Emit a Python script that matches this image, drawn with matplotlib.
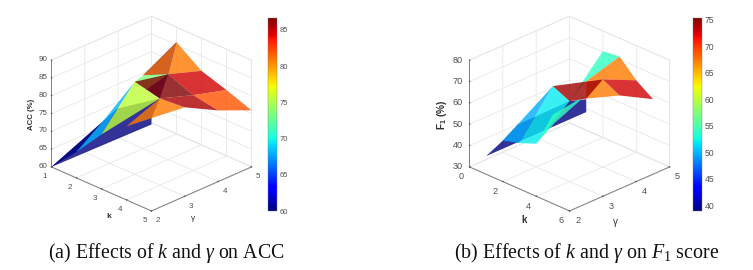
import numpy as np
import matplotlib
matplotlib.use('Agg')
import matplotlib.pyplot as plt
from matplotlib import cm
from matplotlib.colors import Normalize
from matplotlib.transforms import offset_copy
from mpl_toolkits.mplot3d.art3d import Poly3DCollection

plt.rcParams['font.family'] = 'Liberation Sans'
plt.rcParams['mathtext.fontset'] = 'custom'
plt.rcParams['mathtext.rm'] = 'Liberation Serif'
plt.rcParams['mathtext.it'] = 'Liberation Serif:italic'
plt.rcParams['mathtext.bf'] = 'Liberation Sans:bold'

# values
acc_k = [1, 2, 3, 4, 5, 5, 2, 3, 4, 5, 2, 3, 4, 5, 2, 3, 4, 5, 2.3, 3.47]
acc_gamma = [2, 2, 2, 2, 2, 2, 2.75, 3, 3, 3, 4, 4, 4, 4, 5, 5, 5, 5, 3, 3]
acc_z = [60, 67.3, 75.3, 80.7, 84.3, 86, 72.3, 86, 84.4, 85, 80.6, 84, 81.2, 80,
         85.8, 80.8, 78.5, 75.9, 76.3, 85.3]
acc_faces = [(14, 15, 11), (10, 14, 11), (10, 14, 11), (11, 15, 16, 12), (12, 16, 17, 13),
             (7, 10, 11, 19), (19, 11, 8), (0, 4, 5, 8, 18), (0, 1, 6), (1, 2, 7, 6),
             (2, 7, 8), (3, 8, 9), (8, 12, 13, 9), (7, 11, 12, 8)]
acc_colors = [80.8, 60, 81.1, 84.8, 82, 73.4, 60, 60, 60, 68, 75.5, 80.8, 85.6, 86.7]

f1_k = [1, 2, 3, 4, 5, 5, 3, 4, 5, 3, 4, 5, 2, 3, 4, 5, 5, 2, 3, 4]
f1_gamma = [2, 2, 2, 2, 3, 3, 3, 3, 3, 4, 4, 4, 5, 5, 5, 5, 3, 2.45, 3, 2.55]
f1_z = [38.5, 49.2, 51.5, 54.6, 66, 72, 71.3, 67.7, 72.3, 66.7, 71, 66.9, 70.5, 71.4,
        63.7, 58.3, 74, 53.6, 57.9, 60.5]
f1_faces = [(12, 13, 9, 7), (13, 14, 10, 9), (9, 10, 11, 8), (10, 14, 15, 11),
            (0, 4, 5, 7, 17, 1), (1, 6, 2), (2, 3, 7, 6), (3, 18, 16, 19), (6, 10, 8, 7)]
f1_colors = [54, 67.4, 67.4, 72.8, 38.9, 49.7, 52, 54, 74.3]


def draw_surface(rect, cbar_rect, k, gamma, z, faces, colors, clim, cbar_ticks, xlim,
                 xticks, zlim, zticks, fs, cb_fs, nudges):
    ax = fig.add_axes(rect, projection='3d', proj_type='ortho', computed_zorder=False)
    ax.view_init(elev=26.1, azim=-45.01)
    ax.set_box_aspect((141.4, 141.4, 118.7))
    norm = Normalize(*clim)
    pts = np.column_stack([k, gamma, z])
    for i, (face, c) in enumerate(zip(faces, colors)):
        poly = Poly3DCollection([pts[list(face)]], facecolor=cm.jet(norm(c), alpha=0.8),
                                edgecolor='none', linewidth=0, zorder=i + 1)
        ax.add_collection3d(poly)
    ax.set_xlim(*xlim)
    ax.set_ylim(2, 5)
    ax.set_zlim(*zlim)
    ax.set_xticks(xticks)
    ax.set_yticks([2, 3, 4, 5])
    ax.set_zticks(zticks)
    for axis in (ax.xaxis, ax.yaxis, ax.zaxis):
        axis.set_pane_color((1, 1, 1, 1))
        axis.pane.set_edgecolor('#e4e4e4')
        axis.pane.set_linewidth(0.6)
        axis.line.set_color('#808080')
        axis.line.set_linewidth(0.7)
        axis._axinfo['grid'].update(color='#e8e8e8', linewidth=0.6)
        axis._axinfo['tick'].update(inward_factor=0.0, outward_factor=0.05)
    ax.tick_params(labelsize=fs, colors='#505050', pad=-5, width=0.5)
    ax.zaxis.set_ticks_position('lower')
    # Axis3D resets the label transform on every get_major_ticks, so block that
    for axis, (dx, dy) in zip((ax.xaxis, ax.yaxis, ax.zaxis), nudges):
        for tick in axis.get_major_ticks():
            tick.label1.set_transform(offset_copy(ax.transData, fig=fig, x=dx, y=dy, units='dots'))
            tick.label1.set_transform = lambda t: None

    cax = fig.add_axes(cbar_rect)
    cb = fig.colorbar(cm.ScalarMappable(norm=norm, cmap='jet'), cax=cax, ticks=cbar_ticks)
    cb.ax.tick_params(length=0, labelsize=cb_fs, colors='#505050', pad=2)
    cb.outline.set_linewidth(0.3)
    cb.outline.set_edgecolor('#808080')


def label(x, y, s, size, **kw):
    fig.text(x / W, 1 - y / H, s, fontsize=size, ha='center', va='center', color='#303030', **kw)


W, H = 753, 270
fig = plt.figure(figsize=(W / 100, H / 100), dpi=100)

draw_surface([35.4 / W, 40.4 / H, 226 / W, 226 / H], [268.3 / W, 59 / H, 8.9 / W, 193.5 / H],
             acc_k, acc_gamma, acc_z, acc_faces, acc_colors, (60, 86.7),
             [60, 65, 70, 75, 80, 85], (1, 5), [1, 2, 3, 4, 5], (60, 90),
             [60, 65, 70, 75, 80, 85, 90], 5.8, 5.4, [(-3, -1), (3, -1), (-1, 4)])
draw_surface([453.5 / W, 40.4 / H, 226 / W, 226 / H], [692.7 / W, 59 / H, 9.6 / W, 193.5 / H],
             f1_k, f1_gamma, f1_z, f1_faces, f1_colors, (38.9, 75.4),
             [40, 45, 50, 55, 60, 65, 70, 75], (0, 6), [0, 2, 4, 6], (30, 80),
             [30, 40, 50, 60, 70, 80], 6.6, 6.2, [(-4.5, 0), (4.5, 0), (-4.5, 4.5)])

label(109, 217, 'k', 6, fontweight='bold')
label(193, 218, 'γ', 6)
label(32, 114, 'ACC (%)', 5.6, fontweight='bold', rotation=90)
label(524, 220, 'k', 7, fontweight='bold')
label(615, 222, 'γ', 7)
label(442, 115, r'$\mathbf{F_1}$ (%)', 7.3, fontweight='bold', rotation=90)

fig.text(166 / W, 17 / H, r'(a) Effects of $k$ and $\gamma$ on ACC', family='Liberation Serif',
         fontsize=14.3, ha='center', va='center', color='#111111')
fig.text(587 / W, 17 / H, r'(b) Effects of $k$ and $\gamma$ on $F_1$ score', family='Liberation Serif',
         fontsize=14.4, ha='center', va='center', color='#111111')

fig.savefig('out.png', dpi=100)
